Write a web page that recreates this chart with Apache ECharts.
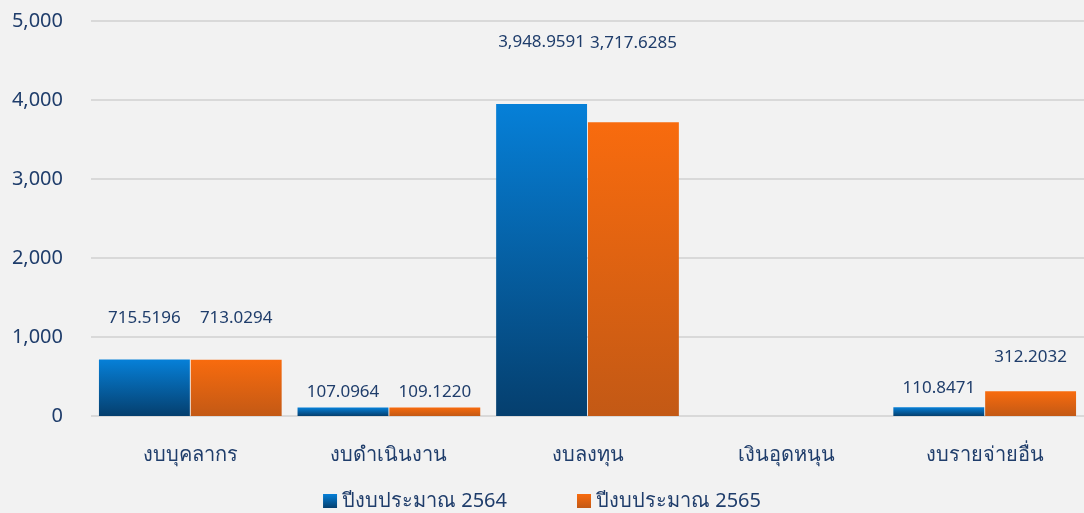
<!DOCTYPE html>
<html>
<head>
<meta charset="utf-8">
<script src="https://cdn.jsdelivr.net/npm/echarts@6/dist/echarts.min.js"></script>
<style>
  html, body { margin: 0; padding: 0; background: #f2f2f2; }
  #budget-chart { width: 1084px; height: 513px; }
</style>
</head>
<body>
<div id="budget-chart"></div>
<script>
// ---------------- data ----------------
const categories = ['งบบุคลากร', 'งบดำเนินงาน', 'งบลงทุน', 'เงินอุดหนุน', 'งบรายจ่ายอื่น'];
const seriesNames = ['ปีงบประมาณ 2564', 'ปีงบประมาณ 2565'];
const budget2564 = [715.5196, 107.0964, 3948.9591, null, 110.8471];
const budget2565 = [713.0294, 109.1220, 3717.6285, null, 312.2032];
const yTicks = [0, 1000, 2000, 3000, 4000, 5000];

// label lift above bar (the original had labels dragged by hand)
const liftBlue = [33, 7, 53, 0, 11];
const liftOrange = [33, 7, 71, 0, 26];

const navy = '#1f3d6b';
const font = '"Noto Sans", "DejaVu Sans", sans-serif';

function grad(top, bottom) {
  return new echarts.graphic.LinearGradient(0, 0, 0, 1, [
    { offset: 0, color: top },
    { offset: 1, color: bottom }
  ]);
}

function fmt(v) {
  return v.toLocaleString('en-US', { minimumFractionDigits: 4, maximumFractionDigits: 4 });
}

function buildData(values, lifts) {
  return values.map((v, i) => ({
    value: v,
    label: { distance: lifts[i] }
  }));
}

const myChart = echarts.init(document.getElementById('budget-chart'), null, { renderer: 'canvas' });

let option = {
  backgroundColor: '#f2f2f2',
  textStyle: { fontFamily: font },
  grid: { left: 91, right: 0, top: 21, bottom: 97 },
  legend: {
    data: seriesNames,
    top: 486,
    left: 'center',
    itemWidth: 14,
    itemHeight: 14,
    itemGap: 70,
    icon: 'rect',
    textStyle: { color: navy, fontSize: 20, fontFamily: font }
  },
  xAxis: {
    type: 'category',
    data: categories,
    axisLine: { show: false },
    axisTick: { show: false },
    axisLabel: { color: navy, fontSize: 20, margin: 29, fontFamily: font }
  },
  yAxis: {
    type: 'value',
    min: yTicks[0],
    max: yTicks[yTicks.length - 1],
    interval: 1000,
    axisLabel: {
      color: navy,
      fontSize: 20,
      margin: 28,
      fontFamily: font,
      formatter: v => v.toLocaleString('en-US')
    },
    splitLine: { lineStyle: { color: '#d9d9d9', width: 2 } }
  },
  series: [
    {
      name: seriesNames[0],
      type: 'bar',
      data: buildData(budget2564, liftBlue),
      barCategoryGap: '8%',
      barGap: '1%',
      itemStyle: { color: grad('#0680d8', '#053f6e') },
      label: {
        show: true,
        position: 'top',
        color: navy,
        fontSize: 17,
        formatter: p => (p.value == null ? '' : fmt(p.value))
      }
    },
    {
      name: seriesNames[1],
      type: 'bar',
      data: buildData(budget2565, liftOrange),
      itemStyle: { color: grad('#f86b0e', '#c35915') },
      label: {
        show: true,
        position: 'top',
        color: navy,
        fontSize: 17,
        formatter: p => (p.value == null ? '' : fmt(p.value))
      }
    }
  ]
};

option && myChart.setOption(option);
</script>
</body>
</html>
